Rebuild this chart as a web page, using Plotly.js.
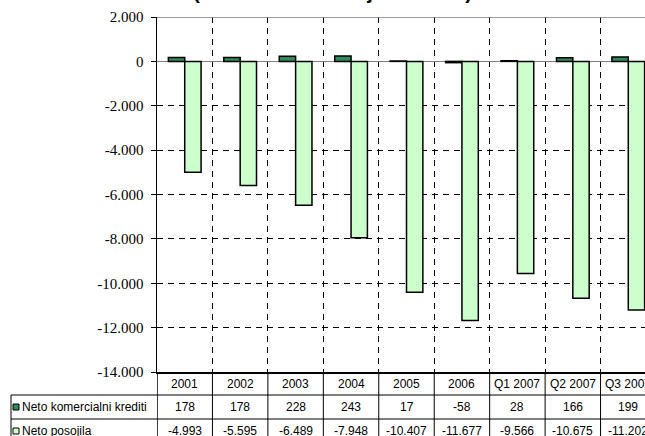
<!DOCTYPE html>
<html>
<head>
<meta charset="utf-8">
<script src="https://cdn.plot.ly/plotly-3.0.1.min.js"></script>
<style>
html, body { margin: 0; padding: 0; overflow: hidden; background: #fff; }
#chart { width: 666px; height: 436px; }
</style>
</head>
<body>
<div id="chart"></div>
<script>
// ---- data ----
var categories = ['2001', '2002', '2003', '2004', '2005', '2006', 'Q1 2007', 'Q2 2007', 'Q3 2007'];
var netoKomercialniKrediti = [178, 178, 228, 243, 17, -58, 28, 166, 199];
var netoPosojila = [-4993, -5595, -6489, -7948, -10407, -11677, -9566, -10675, -11202];
var seriesNames = ['Neto komercialni krediti', 'Neto posojila'];
var yTickVals = [2000, 0, -2000, -4000, -6000, -8000, -10000, -12000, -14000];
var yTickText = ['2.000', '0', '-2.000', '-4.000', '-6.000', '-8.000', '-10.000', '-12.000', '-14.000'];
var chartTitle = '(neto tokovi v milijonih EUR)';

// ---- layout geometry (pixels) ----
var W = 666, H = 436;
var L = 157, R = 10, T = 17, B = 64;
var plotW = W - L - R, plotH = H - T - B;
function px(p) { return (p - L) / plotW; }
function py(p) { return (H - B - p) / plotH; }

var darkGreen = '#2f8a5c';
var lightGreen = '#ccffcc';

function fmt(v) {
  var s = String(Math.abs(v));
  var out = '';
  while (s.length > 3) { out = '.' + s.slice(-3) + out; s = s.slice(0, -3); }
  out = s + out;
  return (v < 0 ? '-' : '') + out;
}

var traces = [
  {
    type: 'bar', name: seriesNames[0], x: categories, y: netoKomercialniKrediti,
    marker: { color: darkGreen, line: { color: '#000', width: 1.5 } },
    hoverinfo: 'none'
  },
  {
    type: 'bar', name: seriesNames[1], x: categories, y: netoPosojila,
    marker: { color: lightGreen, line: { color: '#000', width: 1.5 } },
    hoverinfo: 'none'
  }
];

var rowTop = 372, row1 = 395, row2 = 419, rowEnd = 450;
var yRow0 = py((rowTop + row1) / 2);
var yRow1 = py((row1 + row2) / 2);
var yRow2 = py(row2 + 12);

var shapes = [];
var annotations = [];
var cellFont = { family: '"Liberation Sans", Arial, sans-serif', size: 12, color: '#000' };

// top border (gray) at 2000
shapes.push({ type: 'line', xref: 'paper', yref: 'y', x0: 0, x1: 1, y0: 2000, y1: 2000,
  line: { color: '#808080', width: 1.5 } });
// table horizontal lines
[row1, row2].forEach(function (p) {
  shapes.push({ type: 'line', xref: 'paper', yref: 'paper', x0: px(11), x1: 1, y0: py(p), y1: py(p),
    line: { color: '#000', width: 1 } });
});
// left border of label column
shapes.push({ type: 'line', xref: 'paper', yref: 'paper', x0: px(11), x1: px(11), y0: py(row1), y1: py(rowEnd),
  line: { color: '#000', width: 1 } });
// column dividers
for (var i = 0; i <= categories.length; i++) {
  shapes.push({ type: 'line', xref: 'x', yref: 'paper', x0: i - 0.5, x1: i - 0.5, y0: py(rowTop), y1: py(rowEnd),
    line: { color: '#000', width: i === 0 ? 1.5 : 1 } });
}
// legend keys
shapes.push({ type: 'rect', xref: 'paper', yref: 'paper', x0: px(13), x1: px(19),
  y0: py((row1 + row2) / 2 + 3), y1: py((row1 + row2) / 2 - 3),
  fillcolor: darkGreen, line: { color: '#000', width: 1 } });
shapes.push({ type: 'rect', xref: 'paper', yref: 'paper', x0: px(13), x1: px(19),
  y0: py(row2 + 15), y1: py(row2 + 9),
  fillcolor: lightGreen, line: { color: '#000', width: 1 } });

// table text
categories.forEach(function (c, k) {
  annotations.push({ xref: 'x', yref: 'paper', x: k, y: yRow0, text: c, showarrow: false,
    xanchor: 'center', yanchor: 'middle', font: cellFont });
  annotations.push({ xref: 'x', yref: 'paper', x: k, y: yRow1, text: fmt(netoKomercialniKrediti[k]), showarrow: false,
    xanchor: 'center', yanchor: 'middle', font: cellFont });
  annotations.push({ xref: 'x', yref: 'paper', x: k, y: yRow2, text: fmt(netoPosojila[k]), showarrow: false,
    xanchor: 'center', yanchor: 'middle', font: cellFont });
});
annotations.push({ xref: 'paper', yref: 'paper', x: px(20), y: yRow1, text: seriesNames[0], showarrow: false,
  xanchor: 'left', yanchor: 'middle', font: cellFont });
annotations.push({ xref: 'paper', yref: 'paper', x: px(20), y: yRow2, text: seriesNames[1], showarrow: false,
  xanchor: 'left', yanchor: 'middle', font: cellFont });
// title (mostly above the visible area)
annotations.push({ xref: 'paper', yref: 'paper', x: px(332), y: py(-8.5), text: '<b>' + chartTitle + '</b>',
  showarrow: false, xanchor: 'center', yanchor: 'middle',
  font: { family: '"Liberation Sans", Arial, sans-serif', size: 20.5, color: '#000' } });

var layout = {
  width: W, height: H,
  margin: { l: L, r: R, t: T, b: B, pad: 0 },
  paper_bgcolor: '#fff', plot_bgcolor: '#fff',
  showlegend: false,
  barmode: 'group', bargap: 0.41, bargroupgap: 0,
  xaxis: {
    type: 'category', range: [-0.5, categories.length - 0.5],
    showticklabels: false, ticks: '', tickson: 'boundaries',
    showgrid: true, gridcolor: '#000', gridwidth: 1, griddash: '6px,5px',
    showline: true, linecolor: '#000', linewidth: 1.5,
    zeroline: false, fixedrange: true
  },
  yaxis: {
    range: [-14000, 2000], tickvals: yTickVals, ticktext: yTickText,
    ticks: 'outside', ticklen: 5, tickcolor: '#000', tickwidth: 1,
    ticklabelstandoff: 4,
    tickfont: { family: '"Liberation Serif", "Times New Roman", serif', size: 15, color: '#000' },
    showgrid: true, gridcolor: '#000', gridwidth: 1, griddash: '6px,5px',
    showline: true, linecolor: '#000', linewidth: 1.5,
    zeroline: true, zerolinecolor: '#808080', zerolinewidth: 1.5,
    fixedrange: true
  },
  shapes: shapes,
  annotations: annotations
};

Plotly.newPlot('chart', traces, layout, { displayModeBar: false, staticPlot: true });
</script>
</body>
</html>
